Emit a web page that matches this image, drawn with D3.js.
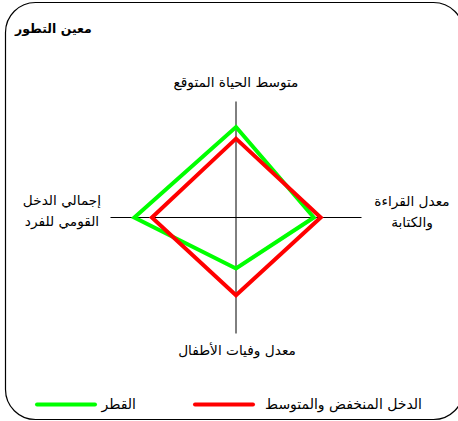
<!DOCTYPE html>
<html><head><meta charset="utf-8">
<script src="https://cdn.jsdelivr.net/npm/d3@7"></script>
<style>body{margin:0;background:#fff}svg{display:block}text{font-family:"DejaVu Sans",sans-serif}</style>
</head><body>
<script>
const title = "معين التطور";
const axisLabels = [["متوسط الحياة المتوقع"],["معدل القراءة","والكتابة"],["معدل وفيات الأطفال"],["إجمالي الدخل","القومي للفرد"]];
const seriesNames = ["القطر","الدخل المنخفض والمتوسط"];
const countryValues = [0.78, 0.62, 0.44, 0.81];
const lowMidValues = [0.68, 0.675, 0.67, 0.67];
const colors = ["#00ff00","#ff0000"];

const W=458,H=421, cx=236, cy=217.5;
const svg=d3.select("body").append("svg").attr("width",W).attr("height",H);
svg.append("rect").attr("x",5.5).attr("y",2.5).attr("width",458).attr("height",417).attr("rx",30).attr("ry",30)
  .attr("fill","#fff").attr("stroke","#000").attr("stroke-width",1.2);
svg.append("text").attr("x",15).attr("y",33).attr("font-size",12.5).attr("font-weight","bold").text(title);

const rx=d3.scaleLinear().domain([0,1]).range([0,125.5]);
const ry=d3.scaleLinear().domain([0,1]).range([0,116]);
const angles=d3.range(4).map(i=>i*Math.PI/2);
const pt=(a,v)=>[cx+Math.sin(a)*rx(v), cy-Math.cos(a)*ry(v)];

angles.forEach(a=>{
  const p=pt(a,1);
  svg.append("line").attr("x1",cx).attr("y1",cy).attr("x2",p[0]).attr("y2",p[1]).attr("stroke","#000").attr("stroke-width",1);
});

const line=d3.line().curve(d3.curveLinearClosed);
[countryValues,lowMidValues].forEach((vals,k)=>{
  svg.append("path").attr("d",line(vals.map((v,i)=>pt(angles[i],v))))
    .attr("fill","none").attr("stroke",colors[k]).attr("stroke-width",4).attr("stroke-linejoin","miter");
});

const labelPos=[[236,87],[412,206],[237,355],[62,205]];
axisLabels.forEach((lines,i)=>{
  const t=svg.append("text").attr("text-anchor","middle").attr("font-size",13.7).attr("fill","#000");
  lines.forEach((s,j)=>t.append("tspan").attr("x",labelPos[i][0]).attr("y",labelPos[i][1]+j*21).text(s));
});

// legend
const legend=[{x1:35,x2:97,tx:136},{x1:193,x2:255,tx:422}];
legend.forEach((l,k)=>{
  svg.append("line").attr("x1",l.x1+2).attr("x2",l.x2-2).attr("y1",404.5).attr("y2",404.5)
    .attr("stroke",colors[k]).attr("stroke-width",4).attr("stroke-linecap","round");
  svg.append("text").attr("x",l.tx).attr("y",409).attr("text-anchor","end").attr("font-size",14).text(seriesNames[k]);
});
</script>
</body></html>
